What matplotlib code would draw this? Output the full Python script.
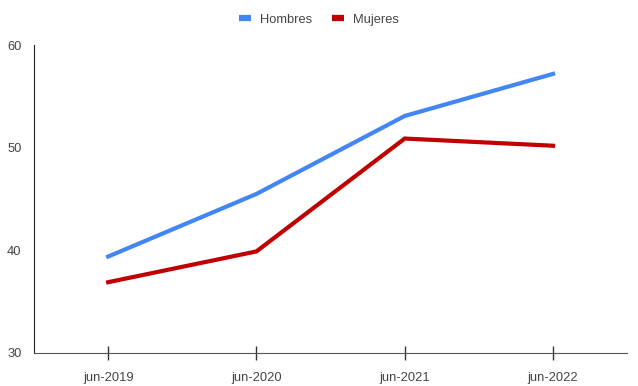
import matplotlib
matplotlib.use("Agg")
import matplotlib.pyplot as plt

# Data
periods = ["jun-2019", "jun-2020", "jun-2021", "jun-2022"]
hombres = [39.4, 45.5, 53.1, 57.2]
mujeres = [36.9, 39.9, 50.9, 50.2]
y_ticks = [30, 40, 50, 60]

plt.rcParams["font.family"] = ["Liberation Sans", "DejaVu Sans"]

fig = plt.figure(figsize=(6.38, 3.86), dpi=100)
ax = fig.add_axes([0.0533, 0.0855, 0.9297, 0.7975])

xs = range(len(periods))
ax.plot(xs, hombres, color="#4285F4", linewidth=3, label="Hombres",
        solid_joinstyle="miter")
ax.plot(xs, mujeres, color="#C00000", linewidth=3, label="Mujeres",
        solid_joinstyle="miter")

ax.set_xlim(-0.5, 3.5)
ax.set_ylim(30, 60)
ax.set_xticks(list(xs))
ax.set_xticklabels(periods)
ax.set_yticks(y_ticks)

for side in ("top", "right"):
    ax.spines[side].set_visible(False)
ax.spines["left"].set_color("#222222")
ax.spines["bottom"].set_color("#555555")

ax.tick_params(axis="x", direction="inout", length=10, width=1, color="#333333",
               labelsize=9.3, labelcolor="#444444", pad=9)
ax.tick_params(axis="y", length=0, labelsize=9.3, labelcolor="#444444", pad=9)

leg = fig.legend(loc="upper center", bbox_to_anchor=(0.5, 0.995), ncol=2,
                 frameon=False, fontsize=9.3, labelcolor="#444444",
                 handlelength=0.9, handletextpad=0.7, columnspacing=1.6)
for h in leg.legend_handles:
    h.set_linewidth(4.5)
    h.set_solid_capstyle("butt")

fig.savefig("out.png", dpi=100)
